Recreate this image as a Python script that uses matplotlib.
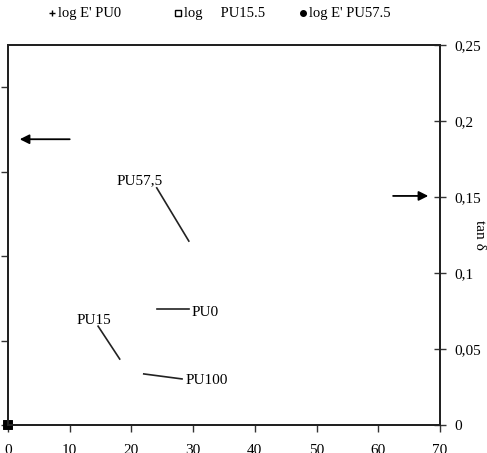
import matplotlib
matplotlib.use("Agg")
import matplotlib.pyplot as plt
from matplotlib.lines import Line2D

plt.rcParams['font.family'] = ['Liberation Serif', 'DejaVu Serif']

# Data
series_names = ["log E' PU0", "log     PU15.5", "log E' PU57.5"]
series_x = [[0], [0], [0]]
series_y = [[0], [0], [0]]
x_ticks = [0, 10, 20, 30, 40, 50, 60, 70]
right_ticks = [0, 0.05, 0.1, 0.15, 0.2, 0.25]
right_tick_labels = ["0", "0,05", "0,1", "0,15", "0,2", "0,25"]
left_ticks = [0, 1, 2, 3, 4]

labels = ["PU57,5", "PU0", "PU15", "PU100"]
label_xy = [(21.4, 0.161), (29.8, 0.0743), (13.9, 0.069), (28.7, 0.029)]
leader_start = [(24.1, 0.156), (24.1, 0.0763), (14.6, 0.065), (22.0, 0.0336)]
leader_end = [(29.3, 0.121), (29.3, 0.0763), (18.1, 0.0434), (28.2, 0.0303)]
label_ha = ["center", "left", "center", "left"]

arrow_left = ((10.0, 0.188), (1.9, 0.188))
arrow_right = ((62.4, 0.1507), (68.1, 0.1507))

W, H = 487, 453
fig = plt.figure(figsize=(W/100, H/100), dpi=100)
ax = fig.add_axes([8/W, 28/H, 432/W, 380/H])
ax2 = ax.twinx()

ax.set_xlim(0, 70)
ax.set_ylim(0, 4.5)
ax2.set_ylim(0, 0.25)

markers = ['+', 's', 'o']
faces = ['black', 'none', 'black']
plot_markers = ['+', 's', 's']
for xs, ys, m, nm in zip(series_x, series_y, plot_markers, series_names):
    ax.plot(xs, ys, linestyle='none', marker=m, markersize=6, markerfacecolor='black',
            markeredgecolor='black', markeredgewidth=1.2, clip_on=False, zorder=5)

ax.set_xticks(x_ticks)
ax.set_xticklabels([str(v) for v in x_ticks], fontsize=11)
ax.set_yticks(left_ticks)
ax.set_yticklabels([])
ax.tick_params(axis='x', direction='out', length=5, width=1, pad=9, colors='#333333', labelcolor='black')
ax.tick_params(axis='y', direction='out', length=5, width=1, colors='#333333')

ax2.set_yticks(right_ticks)
ax2.set_yticklabels(right_tick_labels, fontsize=11)
ax2.tick_params(axis='y', direction='inout', length=8, width=1, pad=6, colors='#333333', labelcolor='black')
ax2.set_ylabel("tan δ", rotation=-90, fontsize=11, labelpad=4)

for a in (ax, ax2):
    for s in a.spines.values():
        s.set_linewidth(1.4)
        s.set_color('#222222')

for lab, (tx, ty), (x0, y0), (x1, y1), ha in zip(labels, label_xy, leader_start, leader_end, label_ha):
    ax2.plot([x0, x1], [y0, y1], color='#222222', lw=1.2)
    ax2.text(tx, ty, lab, ha=ha, va='center', fontsize=11)

for (s, e) in (arrow_left, arrow_right):
    ax2.annotate("", xy=e, xytext=s,
                 arrowprops=dict(arrowstyle='-|>', color='black', lw=1.3, mutation_scale=14,
                                 shrinkA=0, shrinkB=0))

# Legend row (manual placement)
leg_marker_x = [52, 178, 303]
leg_y = 13
for mx, m, fc, nm in zip(leg_marker_x, markers, faces, series_names):
    fig.add_artist(Line2D([mx / W], [1 - leg_y / H], transform=fig.transFigure, linestyle='none',
                          marker=m, markersize=4, markerfacecolor=fc, markeredgecolor='black',
                          markeredgewidth=1))
    fig.text((mx + 6) / W, 1 - leg_y / H, nm, ha='left', va='center', fontsize=10.5)

fig.savefig("out.png", dpi=100)
